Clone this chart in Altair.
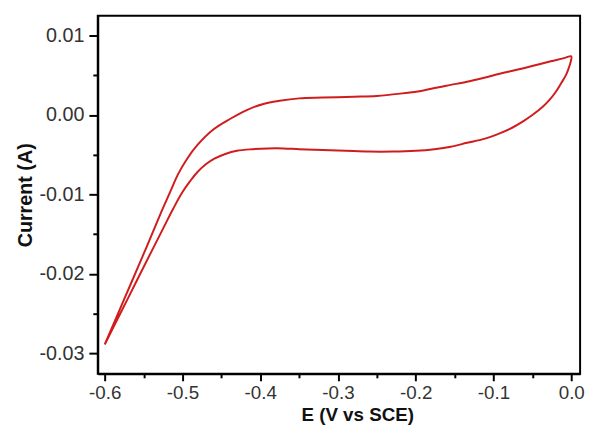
import altair as alt
import pandas as pd

# Forward (upper) branch: E from -0.6 to 0.0
fwd_E = [-0.600, -0.575, -0.550, -0.529, -0.515, -0.506, -0.494, -0.481, -0.460,
         -0.439, -0.418, -0.396, -0.375, -0.350, -0.320, -0.280, -0.250, -0.220,
         -0.190, -0.176, -0.155, -0.134, -0.112, -0.092, -0.070, -0.049, -0.025,
         -0.008, 0.000]
fwd_I = [-0.0289, -0.0232, -0.0175, -0.0126, -0.0095, -0.0075, -0.0055, -0.0038, -0.0018,
         -0.0005, 0.0006, 0.0014, 0.0018, 0.0021, 0.0022, 0.0023, 0.0024, 0.0027,
         0.0031, 0.0034, 0.0038, 0.0042, 0.0047, 0.0052, 0.0057, 0.0062, 0.0068,
         0.0072, 0.0074]

# Reverse (lower) branch: E from 0.0 back to -0.6
rev_E = [0.000, -0.001, -0.004, -0.007, -0.013, -0.020, -0.028, -0.037, -0.050,
         -0.062, -0.076, -0.092, -0.112, -0.134, -0.155, -0.176, -0.200, -0.230,
         -0.260, -0.290, -0.320, -0.350, -0.370, -0.390, -0.410, -0.430, -0.445,
         -0.459, -0.470, -0.481, -0.490, -0.500, -0.512, -0.525, -0.540, -0.560,
         -0.580, -0.600]
rev_I = [0.0074, 0.0066, 0.0057, 0.0050, 0.0040, 0.0029, 0.0019, 0.0010, 0.0000,
         -0.0008, -0.0016, -0.0023, -0.0030, -0.0035, -0.0040, -0.0043, -0.0045, -0.0046,
         -0.0046, -0.0045, -0.0044, -0.0043, -0.0042, -0.0042, -0.0043, -0.0045, -0.0049,
         -0.0055, -0.0062, -0.0072, -0.0083, -0.0097, -0.0118, -0.0143, -0.0172, -0.0211,
         -0.0250, -0.0289]

x_major = [-0.6, -0.5, -0.4, -0.3, -0.2, -0.1, 0.0]
x_minor = [-0.55, -0.45, -0.35, -0.25, -0.15, -0.05]
y_major = [-0.03, -0.02, -0.01, 0.0, 0.01]
y_minor = [-0.025, -0.015, -0.005, 0.005]

E = fwd_E + rev_E[1:]
I = fwd_I + rev_I[1:]
df = pd.DataFrame({"E": E, "I": I, "order": list(range(len(E)))})

FONT = "Liberation Sans"
xdom = [-0.609, 0.0114]
ydom = [-0.0326, 0.0125]

base = alt.Chart(df)

main = base.mark_line(color="#d01c1c", strokeWidth=2, interpolate="catmull-rom").encode(
    x=alt.X("E:Q", scale=alt.Scale(domain=xdom, nice=False, zero=False),
            axis=alt.Axis(orient="bottom", values=x_major, title="E (V vs SCE)",
                          labelExpr="replace(format(datum.value, '.1f'), '\u2212', '-')",
                          grid=False, tickSize=7, tickWidth=2, tickColor="black",
                          domainColor="black", domainWidth=2,
                          labelFont=FONT, labelFontSize=19, labelColor="#333",
                          labelPadding=3, titleFont=FONT, titleFontSize=19,
                          titleFontWeight="bold", titleColor="#111",
                          titleX=263, titleY=32, titleAlign="center",
                          titleBaseline="top")),
    y=alt.Y("I:Q", scale=alt.Scale(domain=ydom, nice=False, zero=False),
            axis=alt.Axis(orient="left", values=y_major, title="Current (A)",
                          labelExpr="replace(format(datum.value, '.2f'), '\u2212', '-')",
                          grid=False, tickSize=9, tickWidth=2, tickColor="black",
                          domainColor="black", domainWidth=2,
                          labelFont=FONT, labelFontSize=20, labelColor="#333",
                          labelPadding=5, titleFont=FONT, titleFontSize=20,
                          titleFontWeight="bold", titleColor="#111", titlePadding=4)),
    order="order:Q",
)

minor = base.mark_line(strokeOpacity=0).encode(
    x=alt.X("E:Q", scale=alt.Scale(domain=xdom, nice=False, zero=False),
            axis=alt.Axis(orient="bottom", values=x_minor, labels=False, title=None,
                          grid=False, domain=False, tickSize=4, tickWidth=2,
                          tickColor="black")),
    y=alt.Y("I:Q", scale=alt.Scale(domain=ydom, nice=False, zero=False),
            axis=alt.Axis(orient="left", values=y_minor, labels=False, title=None,
                          grid=False, domain=False, tickSize=5, tickWidth=2,
                          tickColor="black")),
    order="order:Q",
)

chart = alt.layer(main, minor).resolve_axis(x="independent", y="independent").properties(
    width=489, height=363,
    autosize=alt.AutoSizeParams(type="none"),
    padding={"left": 91, "top": 5, "right": 7, "bottom": 54},
).configure_view(stroke="black", strokeWidth=2)

chart.save("out.html", embed_options={"renderer": "svg", "actions": False})
